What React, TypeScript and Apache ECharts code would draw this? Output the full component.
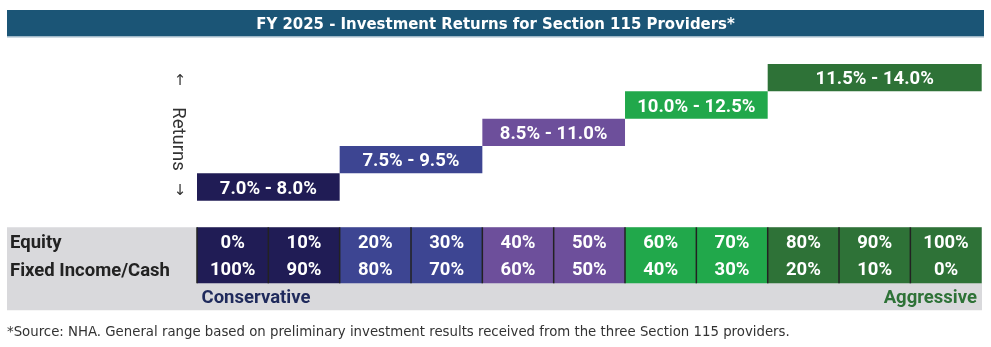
import React, { useEffect, useRef } from "react";
import * as echarts from "echarts";

const titleText = "FY 2025 - Investment Returns for Section 115 Providers*";
const footnoteText =
  "*Source: NHA. General range based on preliminary investment results received from the three Section 115 providers.";
const rowLabels = ["Equity", "Fixed Income/Cash"];
const endLabels = ["Conservative", "Aggressive"];
const axisLabel = "Returns";

const equityPct = [0, 10, 20, 30, 40, 50, 60, 70, 80, 90, 100];
const fixedIncomePct = [100, 90, 80, 70, 60, 50, 40, 30, 20, 10, 0];
const columnBand = [0, 0, 1, 1, 2, 2, 3, 3, 4, 4, 4];

const returnRanges = ["7.0% - 8.0%", "7.5% - 9.5%", "8.5% - 11.0%", "10.0% - 12.5%", "11.5% - 14.0%"];
const rangeStartCol = [0, 2, 4, 6, 8];
const rangeEndCol = [2, 4, 6, 8, 11];
const rangeLevel = [0, 1, 2, 3, 4];

const bandColors = ["#201c55", "#3d4592", "#6d4f9b", "#21a84b", "#2e7237"];

const LABEL_FONT = "Roboto, 'DejaVu Sans', sans-serif";
const BOLD = "bold 18.5px " + LABEL_FONT;

export default function App() {
  const ref = useRef<HTMLDivElement>(null);
  useEffect(() => {
    if (!ref.current) return;
    const chart = echarts.init(ref.current, undefined, { renderer: "svg" });
    const gridLeft = 197;
    const gridWidth = 784.7;
    const option: any = {
      animation: false,
      grid: [
        { left: gridLeft, width: gridWidth, top: 64, height: 136.7 },
        { left: gridLeft, width: gridWidth, top: 227.3, height: 56 },
      ],
      xAxis: [
        { type: "value", min: 0, max: 11, show: false, gridIndex: 0 },
        { type: "value", min: 0, max: 11, show: false, gridIndex: 1 },
      ],
      yAxis: [
        { type: "value", min: 0, max: 5, show: false, gridIndex: 0 },
        { type: "value", min: 0, max: 2, inverse: true, show: false, gridIndex: 1 },
      ],
      graphic: [
        { type: "rect", shape: { x: 7, y: 10, width: 977, height: 26 }, style: { fill: "#1b5576" } },
        { type: "rect", shape: { x: 7, y: 36, width: 977, height: 1.5 }, style: { fill: "#9fb8c8" } },
        {
          type: "text",
          x: 495.5,
          y: 23.5,
          style: {
            text: titleText,
            fill: "#ffffff",
            font: "bold 16.6px 'Liberation Sans Narrow', 'DejaVu Sans Condensed', sans-serif",
            align: "center",
            verticalAlign: "middle",
          },
        },
        {
          type: "text",
          x: 180,
          y: 80,
          style: { text: "↑", fill: "#333", font: "15px 'DejaVu Sans', sans-serif", align: "center", verticalAlign: "middle" },
        },
        {
          type: "text",
          x: 180,
          y: 190,
          style: { text: "↓", fill: "#333", font: "15px 'DejaVu Sans', sans-serif", align: "center", verticalAlign: "middle" },
        },
        {
          type: "text",
          x: 179,
          y: 139,
          rotation: -Math.PI / 2,
          style: { text: axisLabel, fill: "#333", font: "18.5px Roboto, sans-serif", align: "center", verticalAlign: "middle" },
        },
        { type: "rect", shape: { x: 7, y: 227.3, width: 975, height: 83 }, style: { fill: "#d9d9dc" } },
        {
          type: "text",
          x: 10,
          y: 242,
          style: { text: rowLabels[0], fill: "#222", font: BOLD, align: "left", verticalAlign: "middle" },
        },
        {
          type: "text",
          x: 10,
          y: 269.5,
          style: { text: rowLabels[1], fill: "#222", font: BOLD, align: "left", verticalAlign: "middle" },
        },
        {
          type: "text",
          x: 256,
          y: 297,
          style: { text: endLabels[0], fill: "#1f2a5c", font: BOLD, align: "center", verticalAlign: "middle" },
        },
        {
          type: "text",
          x: 977,
          y: 297,
          style: { text: endLabels[1], fill: "#2e7237", font: BOLD, align: "right", verticalAlign: "middle" },
        },
        {
          type: "text",
          x: 7,
          y: 331,
          style: { text: footnoteText, fill: "#333", font: "13.3px 'DejaVu Sans', sans-serif", align: "left", verticalAlign: "middle" },
        },
      ],
      series: [
        {
          type: "custom",
          xAxisIndex: 0,
          yAxisIndex: 0,
          clip: false,
          data: returnRanges.map((r, i) => [rangeStartCol[i], rangeEndCol[i], rangeLevel[i], i]),
          encode: { x: [0, 1], y: 2 },
          renderItem: (params: any, api: any) => {
            const s = api.value(0);
            const e = api.value(1);
            const lv = api.value(2);
            const idx = api.value(3);
            const p0 = api.coord([s, lv]);
            const p1 = api.coord([e, lv + 1]);
            const x = p0[0];
            const y = p1[1];
            const w = p1[0] - p0[0];
            const h = p0[1] - p1[1];
            return {
              type: "group",
              children: [
                { type: "rect", shape: { x, y, width: w, height: h }, style: { fill: bandColors[idx] } },
                {
                  type: "text",
                  x: x + w / 2,
                  y: y + h / 2 + 0.5,
                  style: {
                    text: returnRanges[idx],
                    fill: "#ffffff",
                    font: BOLD,
                    align: "center",
                    verticalAlign: "middle",
                  },
                },
              ],
            };
          },
        },
        {
          type: "custom",
          xAxisIndex: 1,
          yAxisIndex: 1,
          clip: false,
          data: equityPct.map((eq, i) => [i, eq, fixedIncomePct[i], columnBand[i]]),
          encode: { x: 0, y: 1 },
          renderItem: (params: any, api: any) => {
            const c = api.value(0);
            const eq = api.value(1);
            const fi = api.value(2);
            const band = api.value(3);
            const a = api.coord([c, 0]);
            const b = api.coord([c + 1, 2]);
            const m = api.coord([c + 0.5, 0.5]);
            const n = api.coord([c + 0.5, 1.5]);
            return {
              type: "group",
              children: [
                { type: "rect", shape: { x: a[0], y: a[1], width: b[0] - a[0], height: b[1] - a[1] }, style: { fill: bandColors[band] } },
                { type: "line", shape: { x1: a[0], y1: a[1], x2: a[0], y2: b[1] }, style: { stroke: "#222", lineWidth: 1.5 } },
                {
                  type: "text",
                  x: m[0],
                  y: m[1] + 1,
                  style: { text: eq + "%", fill: "#fff", font: BOLD, align: "center", verticalAlign: "middle" },
                },
                {
                  type: "text",
                  x: n[0],
                  y: n[1],
                  style: { text: fi + "%", fill: "#fff", font: BOLD, align: "center", verticalAlign: "middle" },
                },
              ],
            };
          },
        },
      ],
    };
    chart.setOption(option);
    return () => chart.dispose();
  }, []);
  return <div ref={ref} style={{ position: "fixed", left: 0, top: 0, width: 991, height: 347 }} />;
}
